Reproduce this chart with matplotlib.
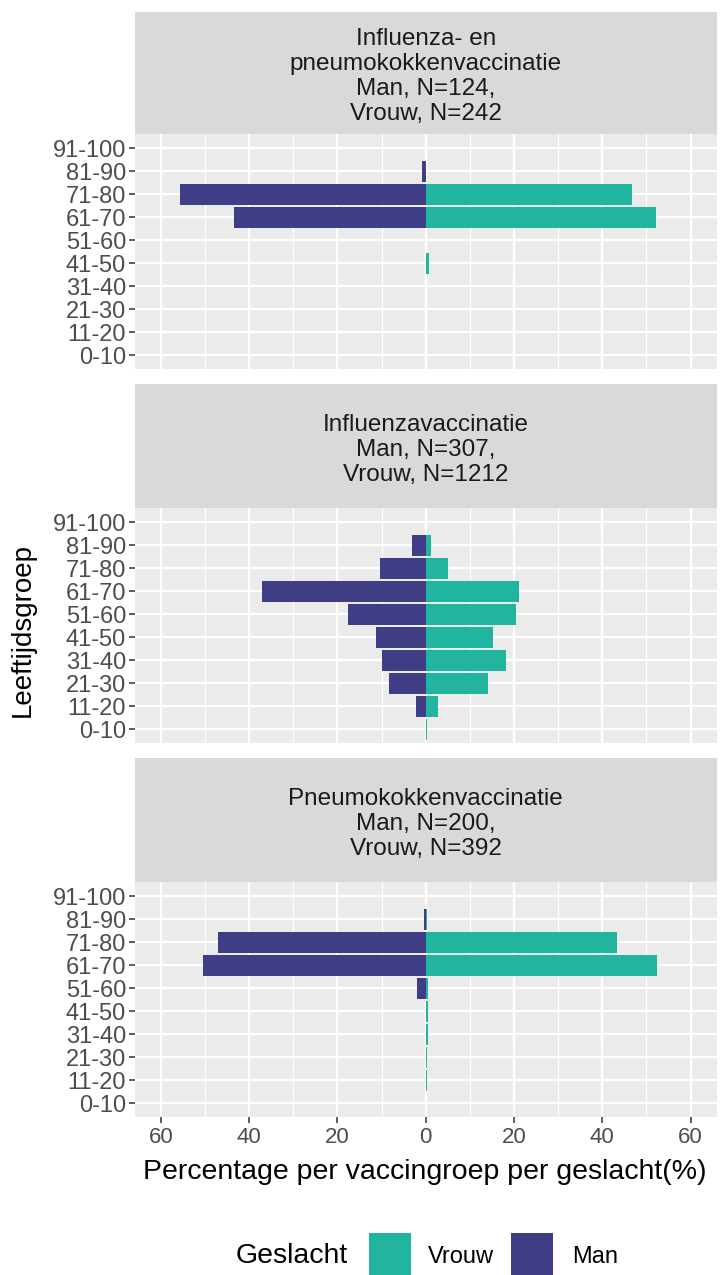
import matplotlib
matplotlib.use("Agg")
import matplotlib.pyplot as plt
from matplotlib.patches import Rectangle
import numpy as np

plt.rcParams['font.family'] = ['Liberation Sans', 'DejaVu Sans']

# ---------------- data ----------------
age_groups = ["0-10", "11-20", "21-30", "31-40", "41-50",
              "51-60", "61-70", "71-80", "81-90", "91-100"]

panel_titles = [
    "Influenza- en\npneumokokkenvaccinatie\nMan, N=124,\nVrouw, N=242",
    "Influenzavaccinatie\nMan, N=307,\nVrouw, N=1212",
    "Pneumokokkenvaccinatie\nMan, N=200,\nVrouw, N=392",
]

# percentages per age group (0-10 ... 91-100)
man_influenza_pneumo = [0, 0, 0, 0, 0, 0, 43.5, 55.6, 0.8, 0]
vrouw_influenza_pneumo = [0, 0, 0, 0, 0.8, 0, 52.1, 46.7, 0, 0]

man_influenza = [0, 2.1, 8.4, 9.9, 11.2, 17.6, 37.0, 10.4, 3.1, 0]
vrouw_influenza = [0.2, 2.7, 14.1, 18.1, 15.3, 20.4, 21.2, 5.0, 1.3, 0]

man_pneumo = [0, 0, 0, 0, 0, 2.0, 50.5, 47.0, 0.5, 0]
vrouw_pneumo = [0, 0.3, 0.3, 0.5, 0.5, 0.5, 52.5, 43.4, 0.3, 0]

man_series = [man_influenza_pneumo, man_influenza, man_pneumo]
vrouw_series = [vrouw_influenza_pneumo, vrouw_influenza, vrouw_pneumo]

x_ticks = [-60, -40, -20, 0, 20, 40, 60]
x_tick_labels = ["60", "40", "20", "0", "20", "40", "60"]
x_minor = [-50, -30, -10, 10, 30, 50]

legend_title = "Geslacht"
legend_labels = ["Vrouw", "Man"]
x_label = "Percentage per vaccingroep per geslacht(%)"
y_label = "Leeftijdsgroep"

# ---------------- style ----------------
col_vrouw = "#21B49E"
col_man = "#3F3D85"
panel_bg = "#EBEBEB"
strip_bg = "#D9D9D9"
text_dark = "#1A1A1A"
tick_col = "#4D4D4D"

W, H = 720, 1275
fig = plt.figure(figsize=(W / 100, H / 100), dpi=100)


def fy(ypix):
    return 1 - ypix / H


left_px, right_px = 134.5, 717
panels_px = [(11.7, 134.3, 369.3), (384.3, 508.3, 743.3), (758.3, 882.3, 1117.3)]

ypos = np.arange(len(age_groups))

for i, (s_top, p_top, p_bot) in enumerate(panels_px):
    # strip
    sax = fig.add_axes([left_px / W, fy(p_top), (right_px - left_px) / W, (p_top - s_top) / H])
    sax.set_facecolor(strip_bg)
    sax.set_xticks([]); sax.set_yticks([])
    for sp in sax.spines.values():
        sp.set_visible(False)
    sax.text(0.5, 0.47, panel_titles[i], ha="center", va="center", fontsize=17.5,
             color=text_dark, linespacing=1.18, transform=sax.transAxes)

    ax = fig.add_axes([left_px / W, fy(p_bot), (right_px - left_px) / W, (p_bot - p_top) / H])
    ax.set_facecolor(panel_bg)
    for sp in ax.spines.values():
        sp.set_visible(False)
    ax.set_xlim(-66, 66)
    ax.set_ylim(-0.6, len(age_groups) - 0.4)
    ax.set_xticks(x_ticks)
    ax.set_xticks(x_minor, minor=True)
    ax.set_yticks(ypos)
    ax.set_yticklabels(age_groups)
    ax.grid(which="major", color="white", linewidth=1.6)
    ax.grid(which="minor", axis="x", color="white", linewidth=0.8)
    ax.set_axisbelow(True)

    ax.barh(ypos, vrouw_series[i], height=0.92, color=col_vrouw, edgecolor="none")
    ax.barh(ypos, -np.array(man_series[i]), height=0.92, color=col_man, edgecolor="none")

    ax.tick_params(axis="y", which="major", length=4, width=1.1, color="#333333",
                   labelsize=17, labelcolor=tick_col, pad=2)
    ax.tick_params(axis="x", which="minor", length=0)
    if i < 2:
        ax.tick_params(axis="x", which="major", length=0, labelbottom=False)
    else:
        ax.set_xticklabels(x_tick_labels)
        ax.tick_params(axis="x", which="major", length=4, width=1.1, color="#333333",
                       labelsize=16, labelcolor=tick_col, pad=3)

# axis labels
fig.text(425 / W, fy(1172), x_label, ha="center", va="center", fontsize=20.5, color="black")
fig.text(23 / W, fy(630), y_label, ha="center", va="center", rotation=90,
         fontsize=20, color="black")

# legend
fig.text(236 / W, fy(1256), legend_title, ha="left", va="center", fontsize=20.5, color="black")
key_w, key_h = 42, 42
for x0, col, lab, lx in [(369, col_vrouw, legend_labels[0], 428),
                         (511, col_man, legend_labels[1], 572)]:
    fig.patches.append(Rectangle((x0 / W, fy(1233 + key_h)), key_w / W, key_h / H,
                                 transform=fig.transFigure, facecolor=col,
                                 edgecolor="none"))
    fig.text(lx / W, fy(1257), lab, ha="left", va="center", fontsize=17, color="black")

fig.savefig("out.png", dpi=100, facecolor="white")
